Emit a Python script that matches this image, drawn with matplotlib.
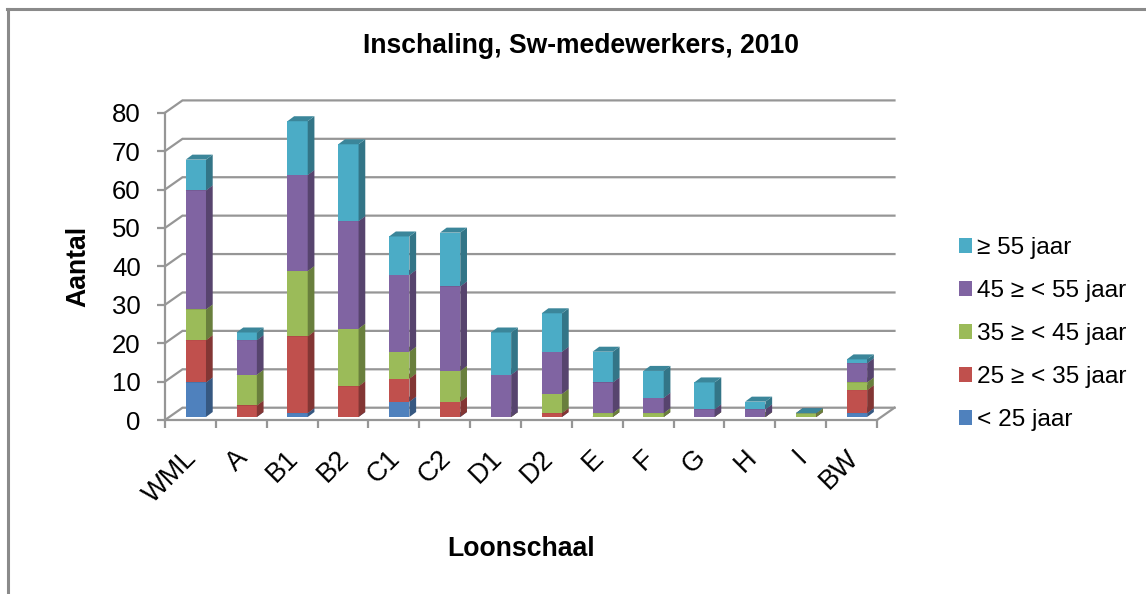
import matplotlib
matplotlib.use("Agg")
import matplotlib.pyplot as plt
from matplotlib.patches import Polygon, Patch
from matplotlib.lines import Line2D
import matplotlib.colors as mc
import numpy as np

plt.rcParams['font.family'] = ['Liberation Sans', 'DejaVu Sans']

categories = ["WML", "A", "B1", "B2", "C1", "C2", "D1", "D2", "E", "F", "G", "H", "I", "BW"]
age_lt25 = [9, 0, 1, 0, 4, 0, 0, 0, 0, 0, 0, 0, 0, 1]
age_25_35 = [11, 3, 20, 8, 6, 4, 0, 1, 0, 0, 0, 0, 0, 6]
age_35_45 = [8, 8, 17, 15, 7, 8, 0, 5, 1, 1, 0, 0, 1, 2]
age_45_55 = [31, 9, 25, 28, 20, 22, 11, 11, 8, 4, 2, 2, 0, 5]
age_ge55 = [8, 2, 14, 20, 10, 14, 11, 10, 8, 7, 7, 2, 0, 1]
series_labels = ["< 25 jaar", "25 ≥ < 35 jaar", "35 ≥ < 45 jaar", "45 ≥ < 55 jaar", "≥ 55 jaar"]
colors = ["#4F81BD", "#C0504D", "#9BBB59", "#8064A2", "#4BACC6"]
y_ticks = [0, 10, 20, 30, 40, 50, 60, 70, 80]

W, H = 1146, 594
fig = plt.figure(figsize=(W / 100, H / 100), dpi=100, facecolor="white")
ax = fig.add_axes([165 / W, (H - 420) / H, 712 / W, 307.3 / H])
ax.set_xlim(0, 14)
ax.set_ylim(0, 80)
ax.patch.set_visible(False)

GRID = "#969696"
LW = 1.6
wall_dx, wall_dy = 0.344, 3.2
for v in y_ticks:
    ax.plot([0, wall_dx, 14 + wall_dx], [v, v + wall_dy, v + wall_dy], color=GRID, lw=LW, clip_on=False, zorder=1, solid_joinstyle="miter")
ax.plot([14, 14 + wall_dx], [0, wall_dy], color=GRID, lw=LW, clip_on=False, zorder=1)

for s in ("top", "right"):
    ax.spines[s].set_visible(False)
for s in ("left", "bottom"):
    ax.spines[s].set_color(GRID)
    ax.spines[s].set_linewidth(LW)
    ax.spines[s].set_zorder(2)

ax.set_yticks(y_ticks)
ax.set_xticks(np.arange(0, 15))
ax.set_xticklabels([])
ax.set_xticks(np.arange(14) + 0.37, categories, minor=True, rotation=45, ha="right", va="top", rotation_mode="anchor")
ax.tick_params(axis="y", length=6, width=LW, color=GRID, labelsize=18.5, pad=11.5)
ax.tick_params(axis="x", which="major", length=6, width=LW, color=GRID)
ax.tick_params(axis="x", which="minor", length=0, labelsize=19.5, pad=18)

bar_left, bar_w, base = 0.407, 0.399, 0.78
dx, dy = 0.132, 1.3
stack = [age_lt25, age_25_35, age_35_45, age_45_55, age_ge55]
bottom = np.zeros(len(categories))
z = 3
for vals, col in zip(stack, colors):
    rgb = np.array(mc.to_rgb(col))
    side, top_c = rgb * 0.68, rgb * 0.78
    for i, v in enumerate(vals):
        x0, x1 = i + bar_left, i + bar_left + bar_w
        y0, y1 = bottom[i] + base, bottom[i] + v + base
        if v > 0:
            ax.add_patch(Polygon([(x0, y0), (x1, y0), (x1, y1), (x0, y1)], fc=col, ec="none", clip_on=False, zorder=z))
            ax.add_patch(Polygon([(x1, y0), (x1 + dx, y0 + dy), (x1 + dx, y1 + dy), (x1, y1)], fc=side, ec="none", clip_on=False, zorder=z))
        ax.add_patch(Polygon([(x0, y1), (x1, y1), (x1 + dx, y1 + dy), (x0 + dx, y1 + dy)], fc=top_c, ec="none", clip_on=False, zorder=z + 0.5))
    bottom += np.array(vals)
    z += 1

fig.text(581 / W, 1 - 46 / H, "Inschaling, Sw-medewerkers, 2010", fontsize=19.1, fontweight="bold", ha="center", va="center")
fig.text(521 / W, 1 - 549 / H, "Loonschaal", fontsize=19.2, fontweight="bold", ha="center", va="center")
fig.text(78.5 / W, 1 - 266 / H, "Aantal", fontsize=19.2, fontweight="bold", rotation=90, ha="center", va="center")

handles = [Patch(fc=c, ec="none") for c in colors[::-1]]
fig.legend(handles, series_labels[::-1], loc="upper left", bbox_to_anchor=(959 / W, 1 - 237 / H), frameon=False,
           fontsize=17.6, handlelength=0.53, handleheight=0.53, handletextpad=0.2, labelspacing=0.86, borderaxespad=0, borderpad=0)

fig.add_artist(Line2D([8 / W, 8 / W], [0, 1 - 9 / H], color="#8A8A8A", lw=2.2, transform=fig.transFigure))
fig.add_artist(Line2D([7 / W, 1], [1 - 9 / H, 1 - 9 / H], color="#8A8A8A", lw=2.2, transform=fig.transFigure))

fig.savefig("out.png", dpi=100, facecolor="white")
